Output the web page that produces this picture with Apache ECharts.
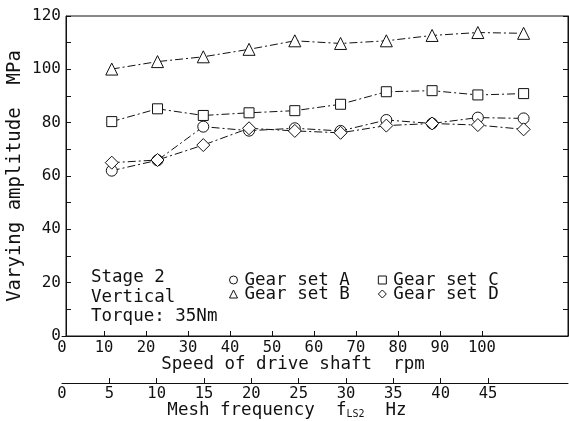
<!DOCTYPE html>
<html>
<head>
<meta charset="utf-8">
<script src="https://cdn.jsdelivr.net/npm/echarts@6/dist/echarts.min.js"></script>
<style>
  html, body { margin: 0; padding: 0; background: #fff; }
  #chart { width: 569px; height: 421px; }
</style>
</head>
<body>
<div id="chart"></div>
<script>
// speeds of the drive shaft (rpm)
var speeds = [10, 20, 30, 40, 50, 60, 70, 80, 90, 100];
var gearA = [62.0, 65.9, 78.5, 77.0, 77.9, 76.9, 81.0, 79.7, 81.9, 81.6];
var gearB = [100.1, 102.9, 104.7, 107.5, 110.7, 109.7, 110.7, 112.7, 113.8, 113.5];
var gearC = [80.4, 85.2, 82.7, 83.7, 84.5, 86.9, 91.6, 92.0, 90.4, 90.9];
var gearD = [65.0, 66.0, 71.6, 77.9, 76.9, 76.2, 78.9, 79.7, 79.1, 77.5];

// tick labels
var rpmTicks = [0, 10, 20, 30, 40, 50, 60, 70, 80, 90, 100];
var hzTicks = [0, 5, 10, 15, 20, 25, 30, 35, 40, 45];
var yLabels = [0, 20, 40, 60, 80, 100, 120];

var FONT = 'DejaVu Sans Mono';
var INK = '#111';

function pairs(vals) {
  return speeds.map(function (s, i) { return [s, vals[i]]; });
}

var dash = [8, 3, 2, 3]; // dash-dot

function gearSeries(name, symbol, size, vals) {
  return {
    name: name,
    type: 'line',
    xAxisIndex: 0,
    yAxisIndex: 0,
    data: pairs(vals),
    symbol: symbol,
    symbolSize: size,
    showAllSymbol: true,
    itemStyle: { color: '#fff', borderColor: INK, borderWidth: 1 },
    lineStyle: { color: INK, width: 1, type: dash },
    emphasis: { disabled: true }
  };
}

var chart = echarts.init(document.getElementById('chart'));

var hollow = { color: '#fff', borderColor: INK, borderWidth: 1 };
var legendText = { fontFamily: FONT, fontSize: 17.5, color: INK, padding: [0, 0, 0, 2] };

var option = {
  animation: false,
  backgroundColor: '#fff',
  grid: [
    // data grid (points are plotted on this scale)
    { left: 66, right: 1, top: 16, bottom: 85, outerBoundsMode: 'none',
      show: true, borderColor: INK, borderWidth: 1 },
    // grid that carries the printed rpm / Hz scales
    { left: 62, right: 1, top: 16, bottom: 85, outerBoundsMode: 'none' }
  ],
  xAxis: [
    {
      gridIndex: 0, type: 'value', min: 0, max: 109.7,
      show: false
    },
    {
      gridIndex: 1, type: 'value', min: 0, max: 120.5, position: 'bottom',
      axisLine: { show: true, lineStyle: { color: INK, width: 1 } },
      axisTick: { show: true, inside: true, length: 5, lineStyle: { color: INK }, customValues: rpmTicks.slice(1) },
      axisLabel: { customValues: rpmTicks, margin: 4, fontFamily: FONT, fontSize: 15.5, color: INK },
      splitLine: { show: false },
      name: 'Speed of drive shaft  rpm',
      nameLocation: 'middle',
      nameMoveOverlap: false,
      nameGap: 19,
      nameTextStyle: { fontFamily: FONT, fontSize: 17.5, color: INK, padding: [0, 44, 0, 0] }
    },
    {
      gridIndex: 1, type: 'value', min: 0, max: 53.45, position: 'bottom', offset: 47,
      axisLine: { show: true, lineStyle: { color: INK, width: 1 } },
      axisTick: { show: true, inside: true, length: 5, lineStyle: { color: INK }, customValues: hzTicks.slice(1) },
      axisLabel: { customValues: hzTicks, margin: 3, fontFamily: FONT, fontSize: 15.5, color: INK },
      splitLine: { show: false },
      name: 'Mesh frequency  {f|f}{s|LS2}  Hz',
      nameLocation: 'middle',
      nameMoveOverlap: false,
      nameGap: 18,
      nameTextStyle: {
        fontFamily: FONT, fontSize: 17.5, color: INK, padding: [0, 56, 0, 0],
        rich: {
          f: { fontFamily: FONT, fontSize: 17.5, color: INK },
          s: { fontFamily: FONT, fontSize: 10, color: INK, verticalAlign: 'bottom' }
        }
      }
    }
  ],
  yAxis: [
    {
      gridIndex: 0, type: 'value', min: 0, max: 120, interval: 10, position: 'left',
      axisLine: { show: true, lineStyle: { color: INK, width: 1 } },
      axisTick: { show: true, inside: true, length: 5, lineStyle: { color: INK } },
      axisLabel: { customValues: yLabels, margin: 5, fontFamily: FONT, fontSize: 16, color: INK },
      splitLine: { show: false },
      name: 'Varying amplitude  MPa',
      nameLocation: 'middle',
      nameMoveOverlap: false,
      nameGap: 41,
      nameTextStyle: { fontFamily: FONT, fontSize: 19, color: INK }
    },
    {
      gridIndex: 0, type: 'value', min: 0, max: 120, interval: 10, position: 'right',
      axisLine: { show: true, lineStyle: { color: INK, width: 1 } },
      axisTick: { show: true, inside: true, length: 5, lineStyle: { color: INK } },
      axisLabel: { show: false },
      splitLine: { show: false }
    },
    { gridIndex: 1, type: 'value', min: 0, max: 120, show: false }
  ],
  legend: [
    {
      left: 224, top: 266, itemWidth: 8, itemHeight: 8, itemGap: 28,
      selectedMode: false, textStyle: legendText,
      data: [
        { name: 'Gear set A', icon: 'circle', itemStyle: hollow },
        { name: 'Gear set C', icon: 'rect', itemStyle: hollow }
      ]
    },
    {
      left: 224, top: 280, itemWidth: 8, itemHeight: 8, itemGap: 28,
      selectedMode: false, textStyle: legendText,
      data: [
        { name: 'Gear set B', icon: 'triangle', itemStyle: hollow },
        { name: 'Gear set D', icon: 'diamond', itemStyle: hollow }
      ]
    }
  ],
  graphic: [
    {
      type: 'text', left: 91, top: 268,
      style: {
        text: 'Stage 2\nVertical\nTorque: 35Nm',
        fontFamily: FONT, fontSize: 17.5, lineHeight: 19.5, fill: INK
      }
    }
  ],
  series: [
    gearSeries('Gear set A', 'circle', 11, gearA),
    gearSeries('Gear set B', 'triangle', 12, gearB),
    gearSeries('Gear set C', 'rect', 10, gearC),
    gearSeries('Gear set D', 'diamond', 13, gearD)
  ]
};

chart.setOption(option);
window.addEventListener('resize', function () { chart.resize(); });
</script>
</body>
</html>
